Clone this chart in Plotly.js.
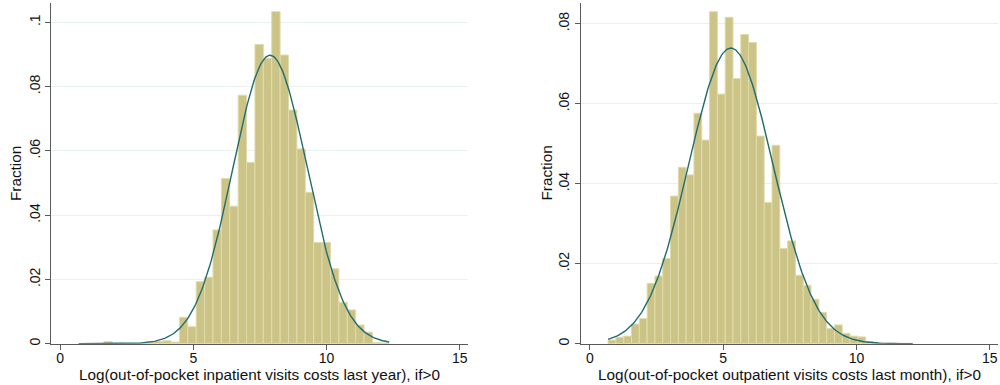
<!DOCTYPE html>
<html>
<head>
<meta charset="utf-8">
<script src="https://cdn.plot.ly/plotly-3.0.1.min.js"></script>
<style>html,body{margin:0;padding:0;background:#fff;}#chart{width:1000px;height:385px;}</style>
</head>
<body>
<div id="chart"></div>
<script>
// ---------- Data: left panel (inpatient, last year) ----------
const inpatientBinMin = 0.70;
const inpatientBinWidth = 0.3149;
const inpatientFraction = [
  0.0000, 0.0000, 0.0000, 0.0006, 0.0000, 0.0000, 0.0000, 0.0000,
  0.0006, 0.0007, 0.0009, 0.0005, 0.0082, 0.0053, 0.0193, 0.0207,
  0.0354, 0.0514, 0.0428, 0.0773, 0.0564, 0.0931, 0.0888, 0.1033,
  0.0898, 0.0727, 0.0606, 0.0471, 0.0315, 0.0315, 0.0233, 0.0129,
  0.0105, 0.0058, 0.0036, 0.0004, 0.0002
];
const inpatientMean = 7.88;
const inpatientSD = 1.40;
const inpatientDataMax = 12.35;

// ---------- Data: right panel (outpatient, last month) ----------
const outpatientBinMin = 0.687;
const outpatientBinWidth = 0.2927;
const outpatientFraction = [
  0.0009, 0.0016, 0.0019, 0.0049, 0.0063, 0.0151, 0.0169, 0.0213,
  0.0369, 0.0441, 0.0422, 0.0576, 0.0509, 0.0830, 0.0624, 0.0816,
  0.0663, 0.0773, 0.0753, 0.0519, 0.0353, 0.0496, 0.0238, 0.0257,
  0.0171, 0.0146, 0.0111, 0.0078, 0.0038, 0.0047, 0.0026, 0.0019,
  0.0017, 0.0005, 0.0003, 0.0001, 0.0001, 0.0000, 0.0001
];
const outpatientMean = 5.29;
const outpatientSD = 1.58;
const outpatientDataMax = 12.11;

// ---------- Tick labels ----------
const xTickVals = [0, 5, 10, 15];
const xTickText = ["0", "5", "10", "15"];
const leftYTickVals = [0, 0.02, 0.04, 0.06, 0.08, 0.1];
const leftYTickText = ["0", ".02", ".04", ".06", ".08", ".1"];
const rightYTickVals = [0, 0.02, 0.04, 0.06, 0.08];
const rightYTickText = ["0", ".02", ".04", ".06", ".08"];

const leftXTitle = "Log(out-of-pocket inpatient visits costs last year), if>0";
const rightXTitle = "Log(out-of-pocket outpatient visits costs last month), if>0";
const yTitle = "Fraction";

// ---------- Helpers ----------
function centers(min, w, n) { const c = []; for (let i = 0; i < n; i++) c.push(min + (i + 0.5) * w); return c; }
function normalCurve(mean, sd, w, lo, hi) {
  const xs = [], ys = [], n = 300;
  for (let i = 0; i <= n; i++) {
    const x = lo + (hi - lo) * i / n;
    xs.push(x);
    ys.push(w * Math.exp(-0.5 * Math.pow((x - mean) / sd, 2)) / (sd * Math.sqrt(2 * Math.PI)));
  }
  return {x: xs, y: ys};
}

const barFill = "rgb(203,196,134)";
const barLine = "rgb(224,219,172)";
const curveColor = "rgb(34,108,110)";
const gridColor = "rgb(232,240,241)";
const axisColor = "rgb(90,90,90)";

const leftCurve = normalCurve(inpatientMean, inpatientSD, inpatientBinWidth, inpatientBinMin, inpatientDataMax);
const rightCurve = normalCurve(outpatientMean, outpatientSD, outpatientBinWidth, outpatientBinMin, outpatientDataMax);

const traces = [
  {type: "bar", x: centers(inpatientBinMin, inpatientBinWidth, inpatientFraction.length), y: inpatientFraction,
   width: inpatientBinWidth, marker: {color: barFill, line: {color: barLine, width: 1}}, xaxis: "x", yaxis: "y", hoverinfo: "x+y"},
  {type: "scatter", mode: "lines", x: leftCurve.x, y: leftCurve.y, line: {color: curveColor, width: 1.4}, xaxis: "x", yaxis: "y"},
  {type: "bar", x: centers(outpatientBinMin, outpatientBinWidth, outpatientFraction.length), y: outpatientFraction,
   width: outpatientBinWidth, marker: {color: barFill, line: {color: barLine, width: 1}}, xaxis: "x2", yaxis: "y2", hoverinfo: "x+y"},
  {type: "scatter", mode: "lines", x: rightCurve.x, y: rightCurve.y, line: {color: curveColor, width: 1.4}, xaxis: "x2", yaxis: "y2"}
];

const tickFont = {family: "Liberation Sans, Arial, Helvetica, sans-serif", size: 14, color: "#111"};
const titleFont = {family: "Liberation Sans, Arial, Helvetica, sans-serif", size: 15.3, color: "#111"};
function xAxis(domain, anchor) {
  return {domain: domain, anchor: anchor, range: [-0.33, 15.32], tickvals: xTickVals, ticktext: xTickText,
    ticks: "outside", ticklen: 5, tickcolor: axisColor, tickwidth: 1, showline: true, linecolor: axisColor, linewidth: 1,
    ticklabelstandoff: -4,
    showgrid: false, zeroline: false, tickfont: tickFont, fixedrange: true};
}
function yAxis(domain, anchor, top, vals, text) {
  return {domain: domain, anchor: anchor, range: [0, top], tickvals: vals, ticktext: text, tickangle: -90,
    ticks: "outside", ticklen: 5, tickcolor: axisColor, tickwidth: 1, showline: true, linecolor: axisColor, linewidth: 1,
    showgrid: true, gridcolor: gridColor, gridwidth: 1, zeroline: false, tickfont: tickFont, fixedrange: true};
}

const yDom = [(385 - 343.7) / 385, (385 - 3.3) / 385];
const layout = {
  width: 1000, height: 385, margin: {l: 0, r: 0, t: 0, b: 0},
  paper_bgcolor: "#fff", plot_bgcolor: "#fff", showlegend: false, bargap: 0, barmode: "overlay",
  font: tickFont,
  xaxis: xAxis([51.3 / 1000, 468.3 / 1000], "y"),
  yaxis: yAxis(yDom, "x", 0.1059, leftYTickVals, leftYTickText),
  xaxis2: xAxis([581 / 1000, 998.3 / 1000], "y2"),
  yaxis2: yAxis(yDom, "x2", 0.0851, rightYTickVals, rightYTickText),
  annotations: [
    {text: leftXTitle, xref: "paper", yref: "paper", x: (51.3 + 468.3) / 2000, y: (385 - 374.5) / 385, xanchor: "center", yanchor: "middle", showarrow: false, borderpad: 0, font: titleFont},
    {text: rightXTitle, xref: "paper", yref: "paper", x: (581 + 998.3) / 2000, y: (385 - 374.5) / 385, xanchor: "center", yanchor: "middle", showarrow: false, borderpad: 0, font: titleFont},
    {text: yTitle, xref: "paper", yref: "paper", x: 15.5 / 1000, y: (385 - 173.5) / 385, textangle: -90, xanchor: "center", yanchor: "middle", showarrow: false, borderpad: 0, font: titleFont},
    {text: yTitle, xref: "paper", yref: "paper", x: 546 / 1000, y: (385 - 173.5) / 385, textangle: -90, xanchor: "center", yanchor: "middle", showarrow: false, borderpad: 0, font: titleFont}
  ]
};

Plotly.newPlot("chart", traces, layout, {displayModeBar: false, staticPlot: true});
</script>
</body>
</html>
